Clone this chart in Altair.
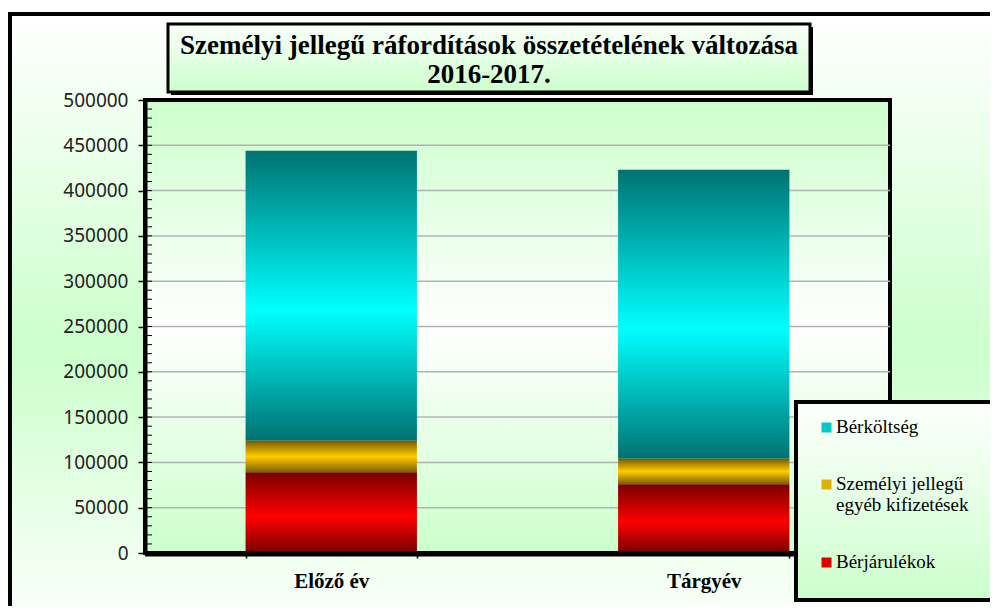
import altair as alt
import pandas as pd

# ---------------- data ----------------
CATEGORIES = ["Előző év", "Tárgyév"]
SERIES = ["Bérköltség", "Személyi jellegű egyéb kifizetések", "Bérjárulékok"]
BERKOLTSEG = [320000, 319000]
SZEMELYI = [35000, 28000]
BERJARULEKOK = [89000, 76000]
Y_TICKS = [0, 50000, 100000, 150000, 200000, 250000, 300000, 350000, 400000, 450000, 500000]
MINOR_TICKS = list(range(0, 500001, 10000))
TITLE_LINES = ["Személyi jellegű ráfordítások összetételének  változása", "2016-2017."]

STACK_ORDER = {"Bérjárulékok": 0, "Személyi jellegű egyéb kifizetések": 1, "Bérköltség": 2}
rows = []
for i, c in enumerate(CATEGORIES):
    for s, vals in zip(SERIES, [BERKOLTSEG, SZEMELYI, BERJARULEKOK]):
        rows.append({"cat": c, "series": s, "value": vals[i], "ord": STACK_ORDER[s]})
df = pd.DataFrame(rows)

W, H = 745, 453
SERIF = "Liberation Serif"


def grad(stops, vertical=True):
    return {
        "gradient": "linear",
        "x1": 0, "y1": 0, "x2": 0 if vertical else 1, "y2": 1 if vertical else 0,
        "stops": [{"offset": o, "color": c} for o, c in stops],
    }


one = alt.InlineData(values=[{"k": 1}])
YSCALE = alt.Scale(domain=[0, 500000], nice=False)

# outer chart background
outer = alt.Chart(one).mark_rect(
    fill=grad([(0, "#ffffff"), (0.56, "#ccffcc"), (1, "#fafffa")]),
    stroke="black", strokeWidth=4,
).encode(x=alt.value(-135), x2=alt.value(900), y=alt.value(-86), y2=alt.value(514))

# title box
title_shadow = alt.Chart(one).mark_rect(fill="black").encode(
    x=alt.value(26), x2=alt.value(668), y=alt.value(-73), y2=alt.value(-5))
title_box = alt.Chart(one).mark_rect(
    fill=grad([(0, "#fbfffb"), (1, "#ccffcc")]), stroke="black", strokeWidth=3,
).encode(x=alt.value(23), x2=alt.value(665), y=alt.value(-76), y2=alt.value(-8))
title1 = alt.Chart(one).mark_text(
    text=TITLE_LINES[0], font=SERIF, fontWeight="bold", fontSize=27,
    color="black", align="center", baseline="middle",
).encode(x=alt.value(344), y=alt.value(-54))
title2 = alt.Chart(one).mark_text(
    text=TITLE_LINES[1], font=SERIF, fontWeight="bold", fontSize=27,
    color="black", align="center", baseline="middle",
).encode(x=alt.value(344), y=alt.value(-25))

# plot area background
plot_bg = alt.Chart(one).mark_rect(
    fill=grad([(0, "#ccffcc"), (0.5, "#ffffff"), (1, "#ccffcc")]),
    stroke="black", strokeWidth=4,
).encode(x=alt.value(0), x2=alt.value(W), y=alt.value(0), y2=alt.value(H))
plot_bottom = alt.Chart(one).mark_rule(color="black", strokeWidth=5).encode(
    x=alt.value(0), x2=alt.value(W), y=alt.value(H + 1))

grid = alt.Chart(alt.InlineData(values=[{"v": v} for v in Y_TICKS[1:-1]])).mark_rule(
    color="#b0b4b0", strokeWidth=1.5,
).encode(y=alt.Y("v:Q", scale=YSCALE, title=None), x=alt.value(0), x2=alt.value(W))

minor = alt.Chart(alt.InlineData(values=[{"v": v} for v in MINOR_TICKS])).mark_rule(
    color="black", strokeWidth=1,
).encode(y=alt.Y("v:Q", scale=YSCALE, title=None), x=alt.value(2), x2=alt.value(7))

# legend box
legend_box = alt.Chart(one).mark_rect(
    fill=grad([(0, "#fdfffd"), (1, "#ccffcc")]), stroke="black", strokeWidth=4,
).encode(x=alt.value(651), x2=alt.value(900), y=alt.value(302), y2=alt.value(500))

GRADS = {
    "Bérköltség": grad([(0, "#007272"), (0.55, "#00ffff"), (1, "#007272")]),
    "Személyi jellegű egyéb kifizetések": grad([(0, "#7a5a00"), (0.5, "#ffcc00"), (1, "#7a5e00")]),
    "Bérjárulékok": grad([(0, "#7a0000"), (0.55, "#ff0000"), (1, "#780000")]),
}
conds = [{"test": f"datum.series === '{s}'", "value": GRADS[s]} for s in SERIES]

bars = alt.Chart(df).mark_bar(strokeWidth=0).encode(
    x=alt.X("cat:N", sort=CATEGORIES,
            scale=alt.Scale(paddingInner=0.54, paddingOuter=0.27),
            axis=alt.Axis(title=None, labelAngle=0, labelFont=SERIF,
                          labelFontWeight="bold", labelFontSize=21, labelColor="black",
                          domain=False, tickBand="extent",
                          tickSize=5, tickColor="black", tickWidth=1.5,
                          labelPadding=12, zindex=1)),
    y=alt.Y("value:Q", stack="zero", scale=YSCALE,
            axis=alt.Axis(values=Y_TICKS, title=None, grid=False, format="d",
                          labelFont="Noto Sans", labelFontSize=19, labelColor="#222222",
                          domainColor="black", domainWidth=4, tickColor="black",
                          tickSize=7, tickWidth=1.5, labelPadding=10, zindex=1)),
    fill=alt.Fill("series:N",
                  scale=alt.Scale(domain=SERIES, range=["#00c8c8", "#e0b000", "#e00000"]),
                  legend=alt.Legend(title=None, orient="none", legendX=672, legendY=323,
                                    symbolType="M-1,-2L1,-2L1,0L-1,0Z", symbolSize=100,
                                    symbolStrokeWidth=0,
                                    labelFont=SERIF, labelFontSize=19, labelBaseline="alphabetic",
                                    labelColor="black", labelLimit=300, labelOffset=0,
                                    rowPadding=37, padding=0, zindex=1,
                                    labelExpr="datum.label == 'Személyi jellegű egyéb kifizetések' ? ['Személyi jellegű', 'egyéb kifizetések'] : datum.label"),
                  condition=conds),
    order=alt.Order("ord:Q", sort="ascending"),
)

chart = alt.layer(
    outer, title_shadow, title_box, title1, title2, plot_bg, grid, minor, bars,
    plot_bottom, legend_box
).properties(
    width=W, height=H,
    padding={"left": 137, "top": 92, "right": 100, "bottom": 53},
    autosize=alt.AutoSizeParams(type="none"),
).configure_view(stroke=None).configure(background="white").configure_legend(
    labelFont=SERIF, labelFontSize=19
)

chart.save("out.html", embed_options={"renderer": "svg", "actions": False})
